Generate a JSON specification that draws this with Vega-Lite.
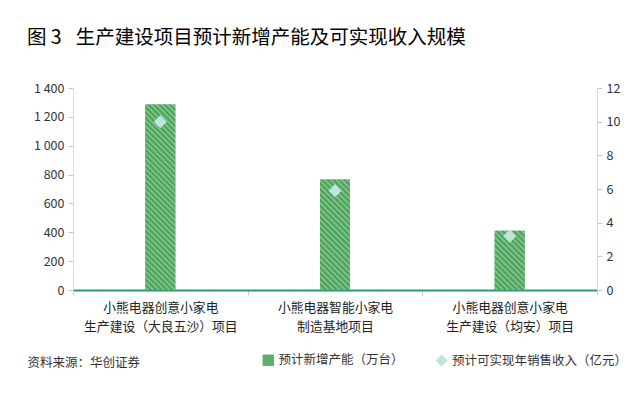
{
  "$schema": "https://vega.github.io/schema/vega-lite/v6.json",
  "autosize": {"type": "none"},
  "width": 524,
  "height": 202,
  "padding": {"left": 73, "top": 88, "right": 43, "bottom": 110},
  "background": "white",
  "config": {
    "view": {"stroke": null},
    "font": "Noto Sans CJK SC",
    "axis": {"grid": false, "labelFont": "Noto Sans CJK SC", "labelColor": "#333333", "labelFontSize": 12.5},
    "legend": {"labelFont": "Noto Sans CJK SC", "labelColor": "#333333", "labelFontSize": 12.5}
  },
  "title": {
    "text": "图 3\u2002 生产建设项目预计新增产能及可实现收入规模",
    "anchor": "start",
    "frame": "group",
    "dx": -46,
    "offset": 34,
    "fontSize": 19.5,
    "fontWeight": "normal",
    "color": "#000000",
    "font": "Noto Sans CJK SC"
  },
  "data": {
    "values": [
      {"project": "小熊电器创意小家电|生产建设（大良五沙）项目", "capacity": 1285, "revenue": 10},
      {"project": "小熊电器智能小家电|制造基地项目", "capacity": 765, "revenue": 5.9},
      {"project": "小熊电器创意小家电|生产建设（均安）项目", "capacity": 410, "revenue": 3.2}
    ]
  },
  "encoding": {
    "x": {
      "field": "project",
      "type": "nominal",
      "sort": null,
      "scale": {"paddingInner": 0, "paddingOuter": 0},
      "axis": {
        "labelAngle": 0,
        "labelExpr": "split(datum.label, '|')",
        "labelLineHeight": 19,
        "labelBaseline": "top",
        "labelPadding": 6,
        "labelLimit": 300,
        "labelFontSize": 12.8,
        "labelColor": "#222222",
        "domainColor": "#2a9d70",
        "domainWidth": 2,
        "tickBand": "extent",
        "tickColor": "#d0d0d0",
        "tickSize": 5,
        "title": "资料来源：华创证券",
        "titleX": -46,
        "titleY": 72,
        "titleAlign": "left",
        "titleAnchor": null,
        "titleBaseline": "middle",
        "titleFontSize": 12.5,
        "titleFontWeight": "normal",
        "titleColor": "#333333",
        "titleFont": "Noto Sans CJK SC"
      }
    }
  },
  "layer": [
    {
      "encoding": {
        "y": {
          "field": "capacity",
          "type": "quantitative",
          "scale": {"domain": [0, 1400], "nice": false},
          "axis": {
            "title": null,
            "values": [0, 200, 400, 600, 800, 1000, 1200, 1400],
            "labelExpr": "replace(format(datum.value, ','), ',', ' ')",
            "domainColor": "#d9d9d9",
            "tickColor": "#c8c8c8",
            "tickSize": 5,
            "labelPadding": 4
          }
        }
      },
      "layer": [
        {
          "mark": {"type": "bar", "size": 30},
          "encoding": {
            "fill": {
              "datum": "预计新增产能（万台）",
              "scale": {"range": ["#5fae6c"]},
              "legend": {
                "title": null,
                "orient": "none",
                "legendX": 189,
                "legendY": 266,
                "symbolType": "square",
                "symbolSize": 130,
                "symbolStrokeWidth": 0
              }
            }
          }
        },
        {
          "transform": [{"filter": "datum.capacity > 1000"}],
          "mark": {
            "type": "bar",
            "size": 30,
            "fill": {
              "gradient": "linear",
              "x1": 0, "y1": 1, "x2": 0.1832, "y2": -0.1322,
              "stops": [
                {"offset": 0, "color": "#3d9a5c"}, {"offset": 0.0125, "color": "#8bc985"},
                {"offset": 0.025, "color": "#3d9a5c"}, {"offset": 0.0375, "color": "#8bc985"},
                {"offset": 0.05, "color": "#3d9a5c"}, {"offset": 0.0625, "color": "#8bc985"},
                {"offset": 0.075, "color": "#3d9a5c"}, {"offset": 0.0875, "color": "#8bc985"},
                {"offset": 0.1, "color": "#3d9a5c"}, {"offset": 0.1125, "color": "#8bc985"},
                {"offset": 0.125, "color": "#3d9a5c"}, {"offset": 0.1375, "color": "#8bc985"},
                {"offset": 0.15, "color": "#3d9a5c"}, {"offset": 0.1625, "color": "#8bc985"},
                {"offset": 0.175, "color": "#3d9a5c"}, {"offset": 0.1875, "color": "#8bc985"},
                {"offset": 0.2, "color": "#3d9a5c"}, {"offset": 0.2125, "color": "#8bc985"},
                {"offset": 0.225, "color": "#3d9a5c"}, {"offset": 0.2375, "color": "#8bc985"},
                {"offset": 0.25, "color": "#3d9a5c"}, {"offset": 0.2625, "color": "#8bc985"},
                {"offset": 0.275, "color": "#3d9a5c"}, {"offset": 0.2875, "color": "#8bc985"},
                {"offset": 0.3, "color": "#3d9a5c"}, {"offset": 0.3125, "color": "#8bc985"},
                {"offset": 0.325, "color": "#3d9a5c"}, {"offset": 0.3375, "color": "#8bc985"},
                {"offset": 0.35, "color": "#3d9a5c"}, {"offset": 0.3625, "color": "#8bc985"},
                {"offset": 0.375, "color": "#3d9a5c"}, {"offset": 0.3875, "color": "#8bc985"},
                {"offset": 0.4, "color": "#3d9a5c"}, {"offset": 0.4125, "color": "#8bc985"},
                {"offset": 0.425, "color": "#3d9a5c"}, {"offset": 0.4375, "color": "#8bc985"},
                {"offset": 0.45, "color": "#3d9a5c"}, {"offset": 0.4625, "color": "#8bc985"},
                {"offset": 0.475, "color": "#3d9a5c"}, {"offset": 0.4875, "color": "#8bc985"},
                {"offset": 0.5, "color": "#3d9a5c"}, {"offset": 0.5125, "color": "#8bc985"},
                {"offset": 0.525, "color": "#3d9a5c"}, {"offset": 0.5375, "color": "#8bc985"},
                {"offset": 0.55, "color": "#3d9a5c"}, {"offset": 0.5625, "color": "#8bc985"},
                {"offset": 0.575, "color": "#3d9a5c"}, {"offset": 0.5875, "color": "#8bc985"},
                {"offset": 0.6, "color": "#3d9a5c"}, {"offset": 0.6125, "color": "#8bc985"},
                {"offset": 0.625, "color": "#3d9a5c"}, {"offset": 0.6375, "color": "#8bc985"},
                {"offset": 0.65, "color": "#3d9a5c"}, {"offset": 0.6625, "color": "#8bc985"},
                {"offset": 0.675, "color": "#3d9a5c"}, {"offset": 0.6875, "color": "#8bc985"},
                {"offset": 0.7, "color": "#3d9a5c"}, {"offset": 0.7125, "color": "#8bc985"},
                {"offset": 0.725, "color": "#3d9a5c"}, {"offset": 0.7375, "color": "#8bc985"},
                {"offset": 0.75, "color": "#3d9a5c"}, {"offset": 0.7625, "color": "#8bc985"},
                {"offset": 0.775, "color": "#3d9a5c"}, {"offset": 0.7875, "color": "#8bc985"},
                {"offset": 0.8, "color": "#3d9a5c"}, {"offset": 0.8125, "color": "#8bc985"},
                {"offset": 0.825, "color": "#3d9a5c"}, {"offset": 0.8375, "color": "#8bc985"},
                {"offset": 0.85, "color": "#3d9a5c"}, {"offset": 0.8625, "color": "#8bc985"},
                {"offset": 0.875, "color": "#3d9a5c"}, {"offset": 0.8875, "color": "#8bc985"},
                {"offset": 0.9, "color": "#3d9a5c"}, {"offset": 0.9125, "color": "#8bc985"},
                {"offset": 0.925, "color": "#3d9a5c"}, {"offset": 0.9375, "color": "#8bc985"},
                {"offset": 0.95, "color": "#3d9a5c"}, {"offset": 0.9625, "color": "#8bc985"},
                {"offset": 0.975, "color": "#3d9a5c"}, {"offset": 0.9875, "color": "#8bc985"},
                {"offset": 1, "color": "#3d9a5c"}
              ]
            }
          },
          "encoding": {}
        },
        {
          "transform": [{"filter": "datum.capacity > 500 && datum.capacity < 1000"}],
          "mark": {
            "type": "bar",
            "size": 30,
            "fill": {
              "gradient": "linear",
              "x1": 0, "y1": 1, "x2": 0.3218, "y2": -0.1843,
              "stops": [
                {"offset": 0, "color": "#3d9a5c"}, {"offset": 0.02, "color": "#8bc985"},
                {"offset": 0.04, "color": "#3d9a5c"}, {"offset": 0.06, "color": "#8bc985"},
                {"offset": 0.08, "color": "#3d9a5c"}, {"offset": 0.1, "color": "#8bc985"},
                {"offset": 0.12, "color": "#3d9a5c"}, {"offset": 0.14, "color": "#8bc985"},
                {"offset": 0.16, "color": "#3d9a5c"}, {"offset": 0.18, "color": "#8bc985"},
                {"offset": 0.2, "color": "#3d9a5c"}, {"offset": 0.22, "color": "#8bc985"},
                {"offset": 0.24, "color": "#3d9a5c"}, {"offset": 0.26, "color": "#8bc985"},
                {"offset": 0.28, "color": "#3d9a5c"}, {"offset": 0.3, "color": "#8bc985"},
                {"offset": 0.32, "color": "#3d9a5c"}, {"offset": 0.34, "color": "#8bc985"},
                {"offset": 0.36, "color": "#3d9a5c"}, {"offset": 0.38, "color": "#8bc985"},
                {"offset": 0.4, "color": "#3d9a5c"}, {"offset": 0.42, "color": "#8bc985"},
                {"offset": 0.44, "color": "#3d9a5c"}, {"offset": 0.46, "color": "#8bc985"},
                {"offset": 0.48, "color": "#3d9a5c"}, {"offset": 0.5, "color": "#8bc985"},
                {"offset": 0.52, "color": "#3d9a5c"}, {"offset": 0.54, "color": "#8bc985"},
                {"offset": 0.56, "color": "#3d9a5c"}, {"offset": 0.58, "color": "#8bc985"},
                {"offset": 0.6, "color": "#3d9a5c"}, {"offset": 0.62, "color": "#8bc985"},
                {"offset": 0.64, "color": "#3d9a5c"}, {"offset": 0.66, "color": "#8bc985"},
                {"offset": 0.68, "color": "#3d9a5c"}, {"offset": 0.7, "color": "#8bc985"},
                {"offset": 0.72, "color": "#3d9a5c"}, {"offset": 0.74, "color": "#8bc985"},
                {"offset": 0.76, "color": "#3d9a5c"}, {"offset": 0.78, "color": "#8bc985"},
                {"offset": 0.8, "color": "#3d9a5c"}, {"offset": 0.82, "color": "#8bc985"},
                {"offset": 0.84, "color": "#3d9a5c"}, {"offset": 0.86, "color": "#8bc985"},
                {"offset": 0.88, "color": "#3d9a5c"}, {"offset": 0.9, "color": "#8bc985"},
                {"offset": 0.92, "color": "#3d9a5c"}, {"offset": 0.94, "color": "#8bc985"},
                {"offset": 0.96, "color": "#3d9a5c"}, {"offset": 0.98, "color": "#8bc985"},
                {"offset": 1, "color": "#3d9a5c"}
              ]
            }
          },
          "encoding": {}
        },
        {
          "transform": [{"filter": "datum.capacity < 500"}],
          "mark": {
            "type": "bar",
            "size": 30,
            "fill": {
              "gradient": "linear",
              "x1": 0, "y1": 1, "x2": 0.6079, "y2": -0.1988,
              "stops": [
                {"offset": 0, "color": "#3d9a5c"}, {"offset": 0.03125, "color": "#8bc985"},
                {"offset": 0.0625, "color": "#3d9a5c"}, {"offset": 0.09375, "color": "#8bc985"},
                {"offset": 0.125, "color": "#3d9a5c"}, {"offset": 0.15625, "color": "#8bc985"},
                {"offset": 0.1875, "color": "#3d9a5c"}, {"offset": 0.21875, "color": "#8bc985"},
                {"offset": 0.25, "color": "#3d9a5c"}, {"offset": 0.28125, "color": "#8bc985"},
                {"offset": 0.3125, "color": "#3d9a5c"}, {"offset": 0.34375, "color": "#8bc985"},
                {"offset": 0.375, "color": "#3d9a5c"}, {"offset": 0.40625, "color": "#8bc985"},
                {"offset": 0.4375, "color": "#3d9a5c"}, {"offset": 0.46875, "color": "#8bc985"},
                {"offset": 0.5, "color": "#3d9a5c"}, {"offset": 0.53125, "color": "#8bc985"},
                {"offset": 0.5625, "color": "#3d9a5c"}, {"offset": 0.59375, "color": "#8bc985"},
                {"offset": 0.625, "color": "#3d9a5c"}, {"offset": 0.65625, "color": "#8bc985"},
                {"offset": 0.6875, "color": "#3d9a5c"}, {"offset": 0.71875, "color": "#8bc985"},
                {"offset": 0.75, "color": "#3d9a5c"}, {"offset": 0.78125, "color": "#8bc985"},
                {"offset": 0.8125, "color": "#3d9a5c"}, {"offset": 0.84375, "color": "#8bc985"},
                {"offset": 0.875, "color": "#3d9a5c"}, {"offset": 0.90625, "color": "#8bc985"},
                {"offset": 0.9375, "color": "#3d9a5c"}, {"offset": 0.96875, "color": "#8bc985"},
                {"offset": 1, "color": "#3d9a5c"}
              ]
            }
          },
          "encoding": {}
        }
      ]
    },
    {
      "mark": {"type": "point", "filled": true, "color": "#bfe5de", "opacity": 1, "size": 170},
      "encoding": {
        "y": {
          "field": "revenue",
          "type": "quantitative",
          "scale": {"domain": [0, 12], "nice": false},
          "axis": {
            "orient": "right",
            "title": null,
            "values": [0, 2, 4, 6, 8, 10, 12],
            "domainColor": "#d9d9d9",
            "tickColor": "#c8c8c8",
            "tickSize": 5,
            "labelPadding": 4
          }
        },
        "shape": {
          "datum": "预计可实现年销售收入（亿元）",
          "scale": {"range": ["diamond"]},
          "legend": {
            "title": null,
            "orient": "none",
            "legendX": 362,
            "legendY": 266,
            "symbolSize": 150,
            "symbolFillColor": "#bfe5de",
            "symbolStrokeWidth": 0,
            "labelLimit": 300
          }
        }
      }
    }
  ],
  "resolve": {"scale": {"y": "independent"}}
}
